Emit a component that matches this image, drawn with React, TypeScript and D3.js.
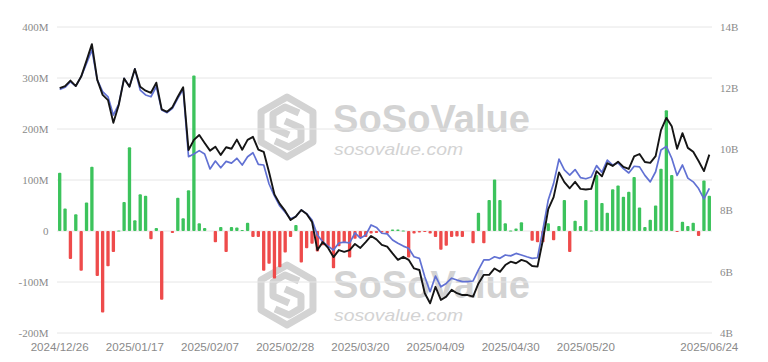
import React from "react";
import * as d3 from "d3";

const monthDays: [string, number[]][] = [
  ["2024/12", [26, 27, 30, 31]],
  ["2025/01", [2, 3, 6, 7, 8, 10, 13, 14, 15, 16, 17, 21, 22, 23, 24, 27, 28, 29, 30, 31]],
  ["2025/02", [3, 4, 5, 6, 7, 10, 11, 12, 13, 14, 18, 19, 20, 21, 24, 25, 26, 27, 28]],
  ["2025/03", [3, 4, 5, 6, 7, 10, 11, 12, 13, 14, 17, 18, 19, 20, 21, 24, 25, 26, 27, 28, 31]],
  ["2025/04", [1, 2, 3, 4, 7, 8, 9, 10, 11, 14, 15, 16, 17, 21, 22, 23, 24, 25, 28, 29, 30]],
  ["2025/05", [1, 2, 5, 6, 7, 8, 9, 12, 13, 14, 15, 16, 19, 20, 21, 22, 23, 27, 28, 29, 30]],
  ["2025/06", [2, 3, 4, 5, 6, 9, 10, 11, 12, 13, 16, 17, 18, 20, 23, 24]],
];
const dates: string[] = monthDays.flatMap(([m, ds]) => ds.map((d) => `${m}/${String(d).padStart(2, "0")}`));

const tickDates = ["2024/12/26", "2025/01/17", "2025/02/07", "2025/02/28", "2025/03/20", "2025/04/09", "2025/04/30", "2025/05/20", "2025/06/24"];
const leftTicks = [-200, -100, 0, 100, 200, 300, 400];
const rightTicks = [4, 6, 8, 10, 12, 14];

// daily net inflow (M USD)
const netInflow = [
  114, 44, -55, 33, -78, 56, 126, -88, -160, -69, -41, 1, 57, 164, 21, 72, 69, -16, 6, -135,
  0, -4, 65, 25, 80, 305, 15, 6, 0, -22, 8, -41, 8, 7, 2, 16, -12, -12, -78, -64,
  -93, -71, -42, -12, 12, -62, -34, -25, -40, -28, -30, -73, -30, -22, -52, -15, -13, -12, -5, -4,
  -3, -5, 3, 3, 1, -52, -5, -3, -1, -5, -12, -37, -29, -12, -11, -12, 0, -24, 36, -24,
  61, 101, 61, 15, 1, 5, 17, 0, -19, -22, -22, 15, -18, 10, 61, -41, 20, 10, 61, 1,
  110, 55, 36, 82, 89, 67, 77, 106, 46, 8, 22, 50, 122, 237, 110, -2, 18, 10, 16, -10,
  99, 69,
];

// total net assets (B USD)
const totalNetAssets = [
  12.0, 12.07, 12.25, 12.07, 12.38, 12.9, 13.44, 12.27, 11.78, 11.61, 10.87, 11.45, 12.32, 12.05, 12.63, 12.05, 11.92, 11.85, 12.18, 11.31,
  11.23, 11.38, 11.72, 12.03, 9.98, 10.31, 10.47, 10.21, 9.96, 10.09, 9.82, 10.07, 10.02, 10.32, 9.99, 10.31, 10.41, 9.99, 9.92, 9.25,
  8.53, 8.22, 7.99, 7.69, 7.81, 8.02, 7.89, 7.63, 6.71, 6.97, 6.78, 6.48, 6.71, 6.65, 6.71, 6.91, 6.78, 6.97, 7.17, 7.06,
  6.88, 6.82, 6.6, 6.39, 6.49, 6.39, 6.11, 6.06, 5.3, 4.97, 5.51, 5.08, 5.19, 5.41, 5.3, 5.24, 5.24, 5.19, 5.62, 5.9,
  5.9, 6.11, 6.0, 6.22, 6.33, 6.28, 6.39, 6.33, 6.19, 6.17, 7.04, 8.05, 8.44, 9.25, 8.93, 8.73, 8.94, 8.71, 8.69, 8.71,
  9.29, 9.12, 9.55, 9.46, 9.6, 9.43, 9.36, 9.77, 9.85, 9.59, 9.56, 9.78, 10.63, 11.03, 10.76, 10.02, 10.53, 10.05, 9.92, 9.62,
  9.29, 9.83,
];

// comparison series (B USD)
const secondSeries = [
  11.96, 12.03, 12.21, 12.07, 12.38, 12.81, 13.25, 12.27, 11.89, 11.72, 11.12, 11.48, 12.32, 12.05, 12.63, 11.94, 11.78, 11.72, 12.05, 11.29,
  11.2, 11.34, 11.67, 11.96, 9.76, 9.85, 9.96, 9.85, 9.36, 9.62, 9.4, 9.61, 9.55, 9.71, 9.49, 9.76, 9.89, 9.51, 9.49, 8.87,
  8.48, 8.15, 7.95, 7.73, 7.81, 8.02, 7.9, 7.69, 7.2, 6.98, 6.84, 6.71, 6.94, 6.97, 6.94, 7.27, 7.1, 7.2, 7.53, 7.45,
  7.26, 7.24, 7.04, 6.93, 6.84, 6.77, 6.49, 6.44, 5.84, 5.35, 5.86, 5.51, 5.62, 5.79, 5.73, 5.68, 5.68, 5.7, 6.06, 6.39,
  6.39, 6.49, 6.44, 6.55, 6.52, 6.6, 6.55, 6.49, 6.44, 6.46, 7.37, 8.35, 8.89, 9.68, 9.33, 9.16, 9.34, 9.08, 9.04, 9.1,
  9.47, 9.25, 9.65, 9.49, 9.56, 9.37, 9.23, 9.45, 9.43, 9.15, 8.94, 9.27, 9.98, 10.1, 9.71, 9.15, 9.49, 9.06, 8.94, 8.72,
  8.38, 8.73,
];

const W = 768;
const H = 362;
const LEFT = 57;
const RIGHT = 712;
const TOP = 27;
const BOTTOM = 333;

const GREEN = "#3cc35c";
const RED = "#ee4b4b";
const BLACK = "#151515";
const BLUE = "#6171d3";
const AXIS_TEXT = "#8a8a8a";
const WM = "#d3d3d3";

function Watermark({ cx, cy, tx, ty }: { cx: number; cy: number; tx: number; ty: number }) {
  const r = 30;
  const pts = d3.range(6).map((i) => {
    const a = (Math.PI / 3) * i - Math.PI / 2;
    return [cx + r * Math.cos(a), cy + r * Math.sin(a)];
  });
  const hex = "M" + pts.map((p) => p.join(",")).join("L") + "Z";
  return (
    <g>
      <path d={hex} fill="none" stroke={WM} strokeWidth={7} strokeLinejoin="round" />
      <path
        d={`M${cx + 12},${cy - 14} L${cx - 2},${cy - 20} L${cx - 14},${cy - 13} L${cx - 14},${cy + 1} L${cx + 2},${cy + 8}`}
        fill="none"
        stroke={WM}
        strokeWidth={7}
        strokeLinejoin="round"
      />
      <path
        d={`M${cx - 2},${cy - 6} L${cx + 14},${cy + 1} L${cx + 14},${cy + 13} L${cx + 2},${cy + 20} L${cx - 12},${cy + 14}`}
        fill="none"
        stroke={WM}
        strokeWidth={7}
        strokeLinejoin="round"
      />
      <text
        x={tx}
        y={ty}
        fontFamily="Liberation Sans, Arial, sans-serif"
        fontWeight={700}
        fontSize={38}
        fill={WM}
        textLength={197}
        lengthAdjust="spacingAndGlyphs"
      >
        SoSoValue
      </text>
      <text
        x={tx + 1}
        y={ty + 23}
        fontFamily="Liberation Sans, Arial, sans-serif"
        fontStyle="italic"
        fontSize={17}
        fill={WM}
        textLength={129}
        lengthAdjust="spacingAndGlyphs"
      >
        sosovalue.com
      </text>
    </g>
  );
}

export default function App() {
  const x = d3.scaleBand<string>().domain(dates).range([LEFT, RIGHT]).paddingInner(0.38).paddingOuter(0.19);
  const yL = d3.scaleLinear().domain([-200, 400]).range([BOTTOM, TOP]);
  const yR = d3.scaleLinear().domain([4, 14]).range([BOTTOM, TOP]);
  const bw = x.bandwidth();
  const cxOf = (d: string) => (x(d) as number) + bw / 2;

  const line = d3
    .line<number>()
    .x((_, i) => cxOf(dates[i]))
    .y((v) => yR(v));

  return (
    <svg width={W} height={H} style={{ display: "block", position: "absolute", left: 0, top: 0, background: "#fff" }}>
      <rect x={0} y={0} width={W} height={H} fill="#fff" />
      <Watermark cx={287} cy={127} tx={333} ty={132} />
      <Watermark cx={287} cy={295} tx={333} ty={298} />

      {leftTicks.map((t) => (
        <line key={"g" + t} x1={LEFT} x2={RIGHT} y1={yL(t)} y2={yL(t)} stroke="#e6e6e6" strokeWidth={1} />
      ))}
      {leftTicks.map((t) => (
        <text
          key={"l" + t}
          x={48.5}
          y={yL(t)}
          dy="0.35em"
          textAnchor="end"
          fontFamily="Liberation Serif, Times New Roman, serif"
          fontSize={11}
          fill={AXIS_TEXT}
        >
          {t === 0 ? "0" : `${t}M`}
        </text>
      ))}
      {rightTicks.map((t) => (
        <text
          key={"r" + t}
          x={720}
          y={yR(t)}
          dy="0.35em"
          textAnchor="start"
          fontFamily="Liberation Serif, Times New Roman, serif"
          fontSize={11}
          fill={AXIS_TEXT}
        >
          {`${t}B`}
        </text>
      ))}
      {tickDates.map((d) => (
        <text
          key={"x" + d}
          x={cxOf(d)}
          y={351}
          textAnchor="middle"
          fontFamily="Liberation Sans, Arial, sans-serif"
          fontSize={11.6}
          fill={AXIS_TEXT}
        >
          {d}
        </text>
      ))}

      {netInflow.map((v, i) => {
        if (v === 0) return null;
        const y0 = yL(0);
        const y1 = yL(v);
        return (
          <rect
            key={"b" + i}
            x={x(dates[i])}
            y={Math.min(y0, y1)}
            width={bw}
            height={Math.max(1, Math.abs(y1 - y0))}
            rx={1}
            fill={v > 0 ? GREEN : RED}
          />
        );
      })}

      <path d={line(secondSeries) || ""} fill="none" stroke={BLUE} strokeWidth={1.7} strokeLinejoin="round" />
      <path d={line(totalNetAssets) || ""} fill="none" stroke={BLACK} strokeWidth={1.9} strokeLinejoin="round" />
    </svg>
  );
}
